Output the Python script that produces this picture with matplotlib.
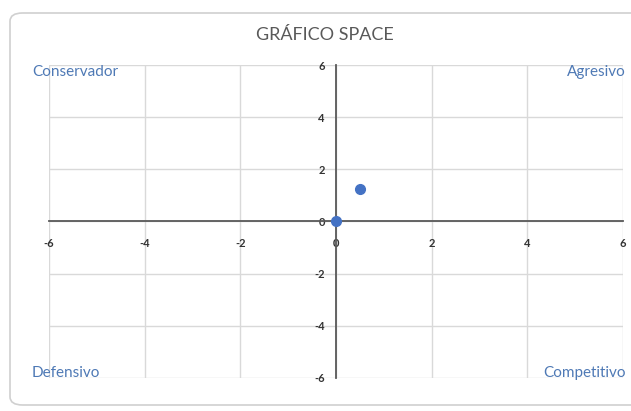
import matplotlib.pyplot as plt
from matplotlib.patches import FancyBboxPatch

# puntos de la matriz SPACE
x_vals = [0, 0.5]
y_vals = [0, 1.25]

ticks = [-6, -4, -2, 0, 2, 4, 6]
cuadrantes = ["Conservador", "Agresivo", "Defensivo", "Competitivo"]
titulo = "GRÁFICO SPACE"

plt.rcParams["font.family"] = ["Lato", "DejaVu Sans"]
plt.rcParams["axes.unicode_minus"] = False

W, H = 631, 411
fig = plt.figure(figsize=(W / 100, H / 100), dpi=100)

# marco redondeado del gráfico
marco = FancyBboxPatch((10 / W, 1 - 405 / H), 640 / W, 392 / H,
                       boxstyle="round,pad=0,rounding_size=0.02",
                       transform=fig.transFigure, fc="white", ec="#d0d0d0",
                       lw=1.2, zorder=-5)
fig.patches.append(marco)

ax = fig.add_axes([49 / W, 1 - 378 / H, 574 / W, 313 / H])
ax.set_zorder(2)
ax.set_xlim(-6, 6)
ax.set_ylim(-6, 6)
ax.set_xticks(ticks)
ax.set_yticks(ticks)
ax.grid(True, color="#d9d9d9", lw=1)
ax.set_axisbelow(True)

for s in ["top", "right"]:
    ax.spines[s].set_visible(False)
ax.spines["left"].set_position("zero")
ax.spines["bottom"].set_position("zero")
ax.spines["left"].set_color("#595959")
ax.spines["bottom"].set_color("#595959")
ax.spines["left"].set_linewidth(1.3)
ax.spines["bottom"].set_linewidth(1.3)
ax.patch.set_alpha(0)

ax.tick_params(axis="both", length=0, labelsize=8, colors="#333333")
ax.tick_params(axis="x", pad=12)
ax.tick_params(axis="y", pad=8)
for lbl in ax.get_xticklabels() + ax.get_yticklabels():
    lbl.set_fontweight("bold")

ax.plot(x_vals, y_vals, "o", color="#4472C4", ms=7, zorder=5, clip_on=False)

fig.text(325 / W, 1 - 35 / H, titulo, ha="center", va="center",
         fontsize=13, color="#595959")

azul = "#4e79b5"
fig.text(32 / W, 1 - 72 / H, cuadrantes[0], ha="left", va="center", fontsize=11, color=azul)
fig.text(626 / W, 1 - 72 / H, cuadrantes[1], ha="right", va="center", fontsize=11, color=azul)
fig.text(32 / W, 1 - 373 / H, cuadrantes[2], ha="left", va="center", fontsize=11, color=azul)
fig.text(626 / W, 1 - 373 / H, cuadrantes[3], ha="right", va="center", fontsize=11, color=azul)

fig.savefig("out.png", dpi=100)
